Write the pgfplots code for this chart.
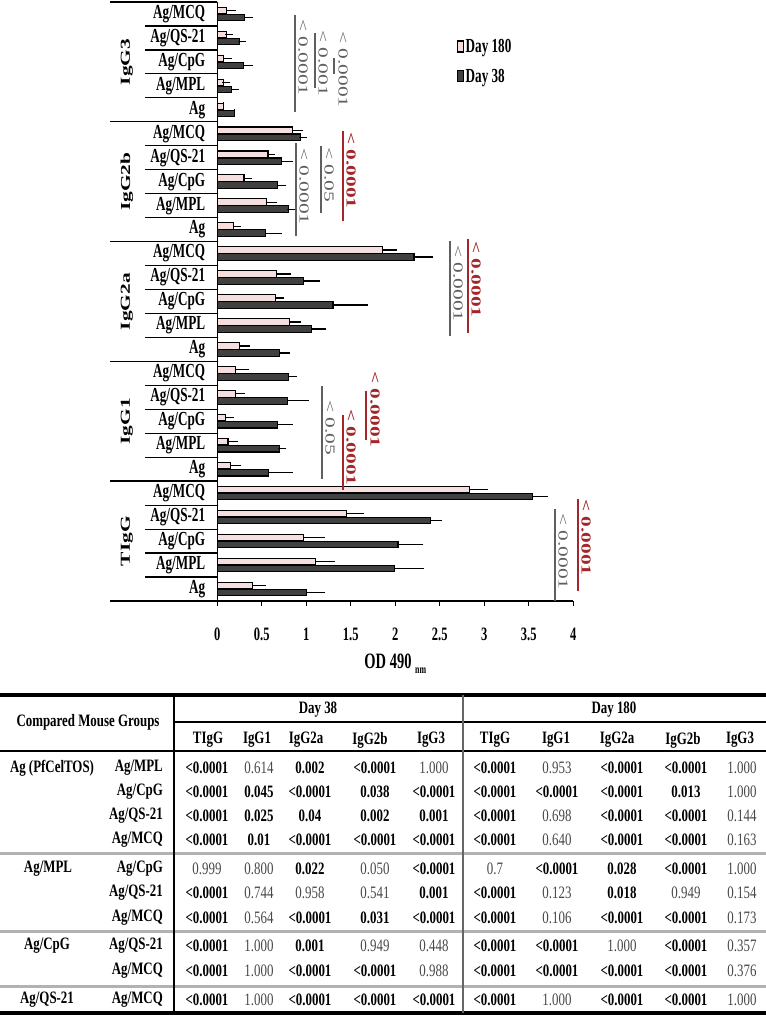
\documentclass[border=0pt]{standalone}
\usepackage{pgfplots}
\pgfplotsset{compat=1.18}
\usepackage{pgfplotstable}
\usepackage{graphicx}
\usepackage{fontspec}
\setmainfont{Liberation Serif}
\newfontfamily\chartfont{Liberation Serif}[FakeStretch=0.66]
\newfontfamily\tabfont{Liberation Serif}[FakeStretch=0.74]
\definecolor{pinkbar}{RGB}{244,222,222}
\definecolor{darkbar}{RGB}{64,64,64}
\definecolor{sigred}{RGB}{165,38,42}
\definecolor{siggray}{RGB}{95,95,95}

% Day 180 (y index: 0-4 TIgG, 5-9 IgG1, 10-14 IgG2a, 15-19 IgG2b, 20-24 IgG3; Ag, MPL, CpG, QS-21, MCQ)
\pgfplotstableread{
y x e
0 0.40 0.10
1 1.10 0.18
2 0.97 0.19
3 1.45 0.15
4 2.83 0.17
5 0.15 0.07
6 0.12 0.07
7 0.09 0.05
8 0.20 0.07
9 0.20 0.11
10 0.25 0.07
11 0.81 0.09
12 0.65 0.05
13 0.67 0.11
14 1.86 0.11
15 0.18 0.04
16 0.55 0.08
17 0.30 0.05
18 0.57 0.03
19 0.84 0.08
20 0.07 0.00
21 0.07 0.03
22 0.07 0.05
23 0.10 0.03
24 0.10 0.07
}\dayB
% Day 38
\pgfplotstableread{
y x e
0 1.00 0.17
1 1.99 0.29
2 2.03 0.24
3 2.40 0.08
4 3.54 0.13
5 0.58 0.22
6 0.70 0.03
7 0.68 0.12
8 0.79 0.19
9 0.80 0.05
10 0.70 0.07
11 1.06 0.12
12 1.30 0.35
13 0.97 0.14
14 2.21 0.17
15 0.54 0.14
16 0.80 0.03
17 0.68 0.05
18 0.72 0.09
19 0.93 0.03
20 0.19 0.00
21 0.16 0.04
22 0.29 0.07
23 0.25 0.03
24 0.31 0.05
}\dayA

\newcommand\sigfont{\fontsize{21.5}{21.5}\selectfont}
\newcommand\sigl[6]{\draw[#5, line width=1.1bp] (#1,#2) -- (#1,#3);
  \node[rotate=-90, anchor=base west, inner sep=0pt, text=#5] at ({#1+3.5},#4) {\scalebox{1}[0.64]{#6}};}
\newcommand\sigt[4]{\node[rotate=-90, anchor=base west, inner sep=0pt, text=#3] at ({#1+3.5},#2) {\scalebox{1}[0.64]{#4}};}

\newcommand\vB[1]{\textbf{#1}}
\newcommand\vR[1]{\textcolor{black!72}{#1}}
\newcommand\RA[6]{\node at (207,#1){#2};\node at (259,#1){#3};\node at (310,#1){#4};\node at (375,#1){#5};\node at (434,#1){#6};}
\newcommand\RB[6]{\node at (495,#1){#2};\node at (557,#1){#3};\node at (622,#1){#4};\node at (686,#1){#5};\node at (742,#1){#6};}

\begin{document}
\begin{tikzpicture}[x=1bp,y=1bp]
\useasboundingbox (0,0) rectangle (766,1016);
\coordinate (AXSW) at (217.3,415);
\begin{axis}[
  at={(AXSW)}, anchor=south west,
  scale only axis, width=356bp, height=599bp,
  xmin=0, xmax=4, ymin=-0.5, ymax=24.5,
  enlargelimits=false, clip=false,
  axis x line*=bottom, axis y line*=left,
  axis line style={line width=1.4bp, -},
  xbar, bar width=6.5bp,
  tick align=outside, major tick length=5bp,
  xtick={0,0.5,1,1.5,2,2.5,3,3.5,4},
  xticklabels={0,0.5,1,1.5,2,2.5,3,3.5,4},
  xtick style={line width=1.1bp, black},
  xticklabel style={font=\chartfont\bfseries\fontsize{19}{19}\selectfont, inner sep=0pt, anchor=north, yshift=-22bp},
  ytick={0,...,24},
  yticklabels={Ag,Ag/MPL,Ag/CpG,Ag/QS-21,Ag/MCQ,Ag,Ag/MPL,Ag/CpG,Ag/QS-21,Ag/MCQ,Ag,Ag/MPL,Ag/CpG,Ag/QS-21,Ag/MCQ,Ag,Ag/MPL,Ag/CpG,Ag/QS-21,Ag/MCQ,Ag,Ag/MPL,Ag/CpG,Ag/QS-21,Ag/MCQ},
  ytick style={draw=none},
  yticklabel style={font=\chartfont\bfseries\fontsize{20}{20}\selectfont, anchor=east, inner sep=0pt, xshift=-7bp},
  xlabel={OD 490\,\raisebox{-0.45ex}{\fontsize{12}{12}\selectfont nm}},
  xlabel style={font=\chartfont\bfseries\fontsize{22}{22}\selectfont, at={(axis description cs:0.5,-0.105)}, anchor=center},
  legend style={at={(axis description cs:0.673,0.940)}, anchor=north west, draw=none, fill=none,
    font=\chartfont\bfseries\fontsize{20}{20}\selectfont, row sep=12bp, inner sep=0pt, nodes={inner sep=1.5bp}},
  legend cell align=left,
]
\addplot[xbar, bar shift=3.5bp, fill=pinkbar, draw=black, line width=1.1bp,
  legend image code/.code={\draw[fill=pinkbar, draw=black, line width=1.1bp] (0bp,-5bp) rectangle (6bp,6bp);},
  error bars/.cd, x dir=plus, x explicit,
  error bar style={line width=1.2bp, black},
  error mark options={line width=1.2bp, mark size=4bp, black}]
  table[x=x, y=y, x error=e] {\dayB};
\addlegendentry{Day 180}
\addplot[xbar, bar shift=-3.5bp, fill=darkbar, draw=black, line width=1.1bp,
  legend image code/.code={\draw[fill=darkbar, draw=black, line width=1.1bp] (0bp,-5bp) rectangle (6bp,6bp);},
  error bars/.cd, x dir=plus, x explicit,
  error bar style={line width=1.2bp, black},
  error mark options={line width=1.2bp, mark size=4bp, black}]
  table[x=x, y=y, x error=e] {\dayA};
\addlegendentry{Day 38}
% group separators
\pgfplotsinvokeforeach{-0.5,4.5,9.5,14.5,19.5,24.5}{
  \draw[line width=1.4bp] (axis cs:-1.206,#1) -- (axis cs:0,#1);}
\pgfplotsinvokeforeach{0.5,1.5,2.5,3.5,5.5,6.5,7.5,8.5,10.5,11.5,12.5,13.5,15.5,16.5,17.5,18.5,20.5,21.5,22.5,23.5}{
  \draw[line width=1.2bp] (axis cs:-0.812,#1) -- (axis cs:0,#1);}
% group labels
\node[rotate=90, font=\bfseries\fontsize{21.5}{22}\selectfont] at (axis cs:-1.015,2) {\scalebox{1}[0.64]{TIgG}};
\node[rotate=90, font=\bfseries\fontsize{21.5}{22}\selectfont] at (axis cs:-1.015,7) {\scalebox{1}[0.64]{IgG1}};
\node[rotate=90, font=\bfseries\fontsize{21.5}{22}\selectfont] at (axis cs:-1.015,12) {\scalebox{1}[0.64]{IgG2a}};
\node[rotate=90, font=\bfseries\fontsize{21.5}{22}\selectfont] at (axis cs:-1.015,17) {\scalebox{1}[0.64]{IgG2b}};
\node[rotate=90, font=\bfseries\fontsize{21.5}{22}\selectfont] at (axis cs:-1.015,22) {\scalebox{1}[0.64]{IgG3}};
\end{axis}

% significance annotations (pixel coordinates, y downward)
\begin{scope}[shift={(0,1016)}, yscale=-1]
\sigl{295}{15}{112}{19}{siggray}{\sigfont < 0.0001}
\sigl{315}{33}{88}{30}{siggray}{\sigfont < 0.001}
\sigt{335}{31}{siggray}{\sigfont < 0.0001}
\draw[siggray, line width=1.1bp] (334,58) -- (334,74);
\sigl{296}{143}{236}{148}{siggray}{\sigfont < 0.0001}
\sigl{321}{146}{213}{147}{siggray}{\sigfont < 0.05}
\sigl{343}{131}{221}{132}{sigred}{\sigfont\bfseries < 0.0001}
\sigl{450}{241}{336}{245}{siggray}{\sigfont < 0.0001}
\sigl{468}{239}{333}{241}{sigred}{\sigfont\bfseries < 0.0001}
\sigl{322}{386}{479}{400}{siggray}{\sigfont < 0.05}
\sigl{343}{415}{490}{409}{sigred}{\sigfont\bfseries < 0.0001}
\sigt{367}{371}{sigred}{\sigfont\bfseries < 0.0001}
\draw[sigred, line width=1.1bp] (366,391) -- (366,440);
\sigl{555}{509}{601}{513}{siggray}{\sigfont < 0.0001}
\sigl{578}{499}{591}{499}{sigred}{\sigfont\bfseries < 0.0001}
\end{scope}

% table (pixel coordinates, y downward)
\begin{scope}[shift={(0,1016)}, yscale=-1, every node/.style={font=\tabfont\fontsize{17.5}{18}\selectfont, inner sep=0pt}]
\draw[line width=3.5bp] (0,695) -- (766,695);
\draw[line width=2.5bp] (174,722) -- (766,722);
\draw[line width=2.5bp] (0,751) -- (766,751);
\draw[line width=3bp, black!30] (0,854) -- (766,854);
\draw[line width=3bp, black!30] (0,932) -- (766,932);
\draw[line width=3bp, black!30] (0,987) -- (766,987);
\draw[line width=3.5bp] (0,1013) -- (766,1013);
\draw[line width=1.5bp] (174,695) -- (174,1013);
\draw[line width=1.2bp, black!60] (463,695) -- (463,1013);
\node at (88,722) {\textbf{Compared Mouse Groups}};
\node at (318,710) {\textbf{Day 38}};
\node at (614,710) {\textbf{Day 180}};
\node at (208,740) {\textbf{TIgG}};
\node at (257,740) {\textbf{IgG1}};
\node at (306,740) {\textbf{IgG2a}};
\node at (370,740) {\textbf{IgG2b}};
\node at (431,740) {\textbf{IgG3}};
\node at (495,740) {\textbf{TIgG}};
\node at (556,740) {\textbf{IgG1}};
\node at (617,740) {\textbf{IgG2a}};
\node at (683,740) {\textbf{IgG2b}};
\node at (740,740) {\textbf{IgG3}};
% left labels
\node at (52,768) {\textbf{Ag (PfCelTOS)}};
\node at (48,869) {\textbf{Ag/MPL}};
\node at (47,946) {\textbf{Ag/CpG}};
\node at (47,1000) {\textbf{Ag/QS-21}};
\node[anchor=east] at (163,768) {\textbf{Ag/MPL}};
\node[anchor=east] at (163,792) {\textbf{Ag/CpG}};
\node[anchor=east] at (163,816) {\textbf{Ag/QS-21}};
\node[anchor=east] at (163,840) {\textbf{Ag/MCQ}};
\node[anchor=east] at (163,869) {\textbf{Ag/CpG}};
\node[anchor=east] at (163,893) {\textbf{Ag/QS-21}};
\node[anchor=east] at (163,918) {\textbf{Ag/MCQ}};
\node[anchor=east] at (163,946) {\textbf{Ag/QS-21}};
\node[anchor=east] at (163,971) {\textbf{Ag/MCQ}};
\node[anchor=east] at (163,1000) {\textbf{Ag/MCQ}};
% values
\RA{768}{\vB{<0.0001}}{\vR{0.614}}{\vB{0.002}}{\vB{<0.0001}}{\vR{1.000}}
\RB{768}{\vB{<0.0001}}{\vR{0.953}}{\vB{<0.0001}}{\vB{<0.0001}}{\vR{1.000}}
\RA{792}{\vB{<0.0001}}{\vB{0.045}}{\vB{<0.0001}}{\vB{0.038}}{\vB{<0.0001}}
\RB{792}{\vB{<0.0001}}{\vB{<0.0001}}{\vB{<0.0001}}{\vB{0.013}}{\vR{1.000}}
\RA{816}{\vB{<0.0001}}{\vB{0.025}}{\vB{0.04}}{\vB{0.002}}{\vB{0.001}}
\RB{816}{\vB{<0.0001}}{\vR{0.698}}{\vB{<0.0001}}{\vB{<0.0001}}{\vR{0.144}}
\RA{840}{\vB{<0.0001}}{\vB{0.01}}{\vB{<0.0001}}{\vB{<0.0001}}{\vB{<0.0001}}
\RB{840}{\vB{<0.0001}}{\vR{0.640}}{\vB{<0.0001}}{\vB{<0.0001}}{\vR{0.163}}
\RA{869}{\vR{0.999}}{\vR{0.800}}{\vB{0.022}}{\vR{0.050}}{\vB{<0.0001}}
\RB{869}{\vR{0.7}}{\vB{<0.0001}}{\vB{0.028}}{\vB{<0.0001}}{\vR{1.000}}
\RA{893}{\vB{<0.0001}}{\vR{0.744}}{\vR{0.958}}{\vR{0.541}}{\vB{0.001}}
\RB{893}{\vB{<0.0001}}{\vR{0.123}}{\vB{0.018}}{\vR{0.949}}{\vR{0.154}}
\RA{918}{\vB{<0.0001}}{\vR{0.564}}{\vB{<0.0001}}{\vB{0.031}}{\vB{<0.0001}}
\RB{918}{\vB{<0.0001}}{\vR{0.106}}{\vB{<0.0001}}{\vB{<0.0001}}{\vR{0.173}}
\RA{946}{\vB{<0.0001}}{\vR{1.000}}{\vB{0.001}}{\vR{0.949}}{\vR{0.448}}
\RB{946}{\vB{<0.0001}}{\vB{<0.0001}}{\vR{1.000}}{\vB{<0.0001}}{\vR{0.357}}
\RA{971}{\vB{<0.0001}}{\vR{1.000}}{\vB{<0.0001}}{\vB{<0.0001}}{\vR{0.988}}
\RB{971}{\vB{<0.0001}}{\vB{<0.0001}}{\vB{<0.0001}}{\vB{<0.0001}}{\vR{0.376}}
\RA{1000}{\vB{<0.0001}}{\vR{1.000}}{\vB{<0.0001}}{\vB{<0.0001}}{\vB{<0.0001}}
\RB{1000}{\vB{<0.0001}}{\vR{1.000}}{\vB{<0.0001}}{\vB{<0.0001}}{\vR{1.000}}
\end{scope}
\end{tikzpicture}
\end{document}
